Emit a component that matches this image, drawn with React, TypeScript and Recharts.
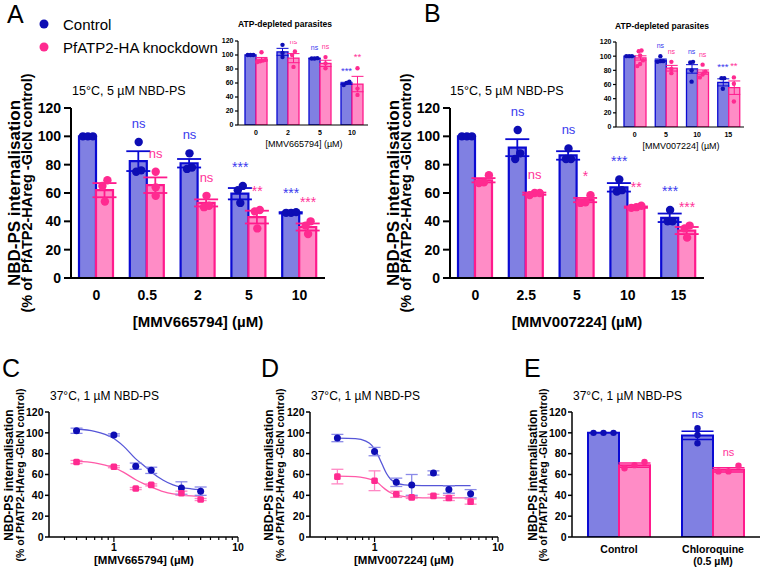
import React from "react";
import { ComposedChart, Bar, Line, Scatter, XAxis, YAxis, ErrorBar } from "recharts";

const FONT = "'Liberation Sans', Arial, Helvetica, sans-serif";

const BLUE_FILL = "#8080e2";
const BLUE_EDGE = "#0a0ad2";
const BLUE_DOT = "#0d0db4";
const BLUE_SIG = "#3a3aee";
const BLUE_LINE = "#5656d8";
const BLUE_ERR = "#8a8ae8";
const PINK_FILL = "#ff8cc6";
const PINK_EDGE = "#ff1a8c";
const PINK_DOT = "#ff2a90";
const PINK_SIG = "#ff3399";
const PINK_LINE = "#ff5aa8";
const PINK_ERR = "#ff88c4";

// ---- A: 15°C, MMV665794
const catsA = ["0", "0.5", "2", "5", "10"];
const ctrlA = [100, 82.5, 81, 59.5, 46];
const ctrlSemA = [0, 7, 3, 4, 0.5];
const ctrlRepsA = [[100, 100, 100], [75, 96, 76], [77, 88, 78], [65, 53, 62], [46, 46, 46.5]];
const kdA = [62, 65.5, 53, 43, 36];
const kdSemA = [5, 5.5, 2.5, 4.5, 2.5];
const kdRepsA = [[69, 54, 65], [64, 75, 58], [50, 58, 51], [48, 35, 47], [40, 31, 37]];
const sigCtrlA = ["", "ns", "ns", "***", "***"];
const sigKdA = ["", "ns", "ns", "**", "***"];

// ---- A inset: ATP-depleted
const catsAI = ["0", "2", "5", "10"];
const ctrlAI = [100, 104.5, 95, 59.5];
const ctrlSemAI = [0, 5, 0.5, 1.5];
const ctrlRepsAI = [[100, 100, 100], [103, 114.5, 97], [95, 95, 95.5], [62, 57, 60]];
const kdAI = [94, 95.5, 88, 58.5];
const kdSemAI = [2.5, 6.5, 4.5, 11];
const kdRepsAI = [[104, 92, 91, 93, 90], [100, 105, 83], [97, 81, 88], [81, 52, 43]];
const sigCtrlAI = ["", "ns", "ns", "***"];
const sigKdAI = ["", "ns", "ns", "**"];

// ---- B: 15°C, MMV007224
const catsB = ["0", "2.5", "5", "10", "15"];
const ctrlB = [100, 92, 86.5, 64, 42.5];
const ctrlSemB = [0, 6, 3, 3, 3];
const ctrlRepsB = [[100, 100, 100], [88, 104.5, 84], [84, 91.5, 84], [61, 69.5, 62], [40, 48, 40]];
const kdB = [69, 59.5, 55, 50, 33.5];
const kdSemB = [1.5, 0.8, 1.5, 0.5, 2.5];
const kdRepsB = [[72.5, 67, 67.5], [60, 58.5, 60], [53, 58.5, 53.5], [49.5, 51, 50], [37, 28.5, 35]];
const sigCtrlB = ["", "ns", "ns", "***", "***"];
const sigKdB = ["", "ns", "*", "**", "***"];

// ---- B inset: ATP-depleted
const catsBI = ["0", "5", "10", "15"];
const ctrlBI = [100, 94.5, 82, 63];
const ctrlSemBI = [0, 1.5, 6, 5];
const ctrlRepsBI = [[100, 100, 100], [93, 100, 92, 93], [91, 64, 92, 80], [69, 54, 69]];
const kdBI = [97.5, 83, 77.5, 55.5];
const kdSemBI = [3, 4, 3, 9.5];
const kdRepsBI = [[89, 107, 101, 86, 108, 94], [92, 76, 82], [88, 74, 78, 70], [70, 36, 61]];
const sigCtrlBI = ["", "ns", "ns", "***"];
const sigKdBI = ["", "ns", "ns", "**"];

// ---- C: 37°C, MMV665794 dose response
const doseC = [0.5, 1, 1.5, 2, 3.5, 5];
const ctrlC = [102, 98, 68, 64, 47, 44];
const ctrlSemC = [2.5, 1, 3, 3, 6, 4];
const kdC = [72, 67.5, 46.5, 50, 42, 36];
const kdSemC = [1.5, 1, 1, 1, 2, 1];
const fitXC = [0.5, 0.7, 0.85, 1, 1.2, 1.5, 1.75, 2, 2.5, 3, 3.5, 4.2, 5];
const fitCtrlC = [103.7, 101.5, 98.5, 94.5, 87, 75, 68.5, 62.5, 54.5, 50, 47.7, 46.3, 45.5];
const fitKdC = [72.6, 71.2, 69, 66.5, 62, 55, 51, 48, 43.5, 41.3, 40.2, 39.5, 39.2];

// ---- D: 37°C, MMV007224 dose response
const doseD = [0.5, 1, 1.5, 2, 3, 4, 6];
const ctrlD = [95, 82, 52.5, 50, 61.5, 45.5, 41.5];
const ctrlSemD = [3.5, 4, 4, 10, 2, 3.5, 4];
const kdD = [58, 54, 41, 38, 39.5, 37.5, 34];
const kdSemD = [7, 9.5, 3, 1, 1.5, 2.5, 2.5];
const fitXD = [0.5, 0.7, 0.85, 0.95, 1.05, 1.15, 1.25, 1.35, 1.5, 1.75, 2, 3, 6];
const fitCtrlD = [95, 94.5, 92, 88, 80, 70, 61, 55.5, 52, 50, 49.5, 49.3, 49.3];
const fitKdD = [58.5, 58, 56.5, 55, 52.5, 48.5, 45, 42.5, 40.5, 38.7, 38, 37.5, 37.5];

// ---- E: chloroquine
const catsE = ["Control", "Chloroquine (0.5 µM)"];
const ctrlE = [100, 97.5];
const ctrlSemE = [0, 4];
const ctrlRepsE = [[100, 100, 100], [90, 104.5, 98]];
const kdE = [69, 64.5];
const kdSemE = [2, 2];
const kdRepsE = [[72, 66, 69], [68.5, 63, 63]];
const sigCtrlE = ["", "ns"];
const sigKdE = ["", "ns"];

const Y_TICKS = [0, 20, 40, 60, 80, 100, 120];
const LOG_TICKS = [0.4, 0.5, 0.6, 0.7, 0.8, 0.9, 1, 2, 3, 4, 5, 6, 7, 8, 9, 10];

type Style = {
  barSize: number; r: number; step: number; cap: number; errW: number; edgeW: number;
  axisW: number; tickFs: number; yTickLen: number; yTickGap: number; xTickGap: number;
  ns: number; star: number; sigOff: number; xH: number; mT: number;
};

const MAIN: Style = { barSize: 17, r: 4.2, step: 5, cap: 12, errW: 1.8, edgeW: 2.2, axisW: 2, tickFs: 14, yTickLen: 7, yTickGap: 3, xTickGap: 12, ns: 13, star: 14, sigOff: 14, xH: 30, mT: 10 };
const INSET: Style = { barSize: 11, r: 2.2, step: 2.8, cap: 6, errW: 1, edgeW: 1.3, axisW: 1.2, tickFs: 7, yTickLen: 3, yTickGap: 1.5, xTickGap: 5, ns: 7, star: 9.5, sigOff: 8, xH: 16, mT: 18 };
const SMALL: Style = { barSize: 31, r: 3.2, step: 10, cap: 16, errW: 1.5, edgeW: 2, axisW: 1.5, tickFs: 10.5, yTickLen: 4, yTickGap: 1.5, xTickGap: 8, ns: 11, star: 12, sigOff: 10, xH: 36, mT: 10 };

// spread replicate dots sideways when they would overlap (like GraphPad)
function spread(vals: number[], ppu: number, r: number, step: number) {
  const order = vals.map((_, i) => i).sort((a, b) => vals[a] - vals[b]);
  const offs = vals.map(() => 0);
  let group: number[] = [];
  const flush = () => {
    group.forEach((idx, k) => { offs[idx] = (k - (group.length - 1) / 2) * step; });
    group = [];
  };
  order.forEach((idx, k) => {
    if (k > 0 && (vals[idx] - vals[order[k - 1]]) * ppu >= r * 1.8) flush();
    group.push(idx);
  });
  flush();
  return offs;
}

function CatTick({ x, y, payload, fs }: any) {
  const lines = String(payload.value).split(/ (?=\()/);
  return (
    <text x={x} y={y} textAnchor="middle" fill="#000" fontSize={fs} fontWeight={700} fontFamily={FONT}>
      {lines.map((ln, i) => (
        <tspan key={i} x={x} dy={i === 0 ? "0.72em" : "1.2em"}>{ln}</tspan>
      ))}
    </text>
  );
}

function LogTick({ x, y, payload }: any) {
  const v = payload.value;
  const major = v === 1 || v === 10;
  return (
    <g>
      <line x1={x} x2={x} y1={y} y2={y + (major ? 5 : 3)} stroke="#000" strokeWidth={1.2} />
      {major && (
        <text x={x} y={y + 6} dy="0.72em" textAnchor="middle" fill="#000" fontSize={10.5} fontWeight={700} fontFamily={FONT}>
          {v}
        </text>
      )}
    </g>
  );
}

function BarPanel(props: any) {
  const { x, y, w, h, yW, padL, cats, ctrl, ctrlSem, ctrlReps, kd, kdSem, kdReps, sigCtrl, sigKd, st } = props;
  const s: Style = st;
  const ppu = h / 120;
  const rows = cats.map((cat: string, i: number) => {
    const row: any = {
      cat, c: ctrl[i], ce: ctrlSem[i], k: kd[i], ke: kdSem[i],
      cReps: ctrlReps[i], kReps: kdReps[i],
      cTop: Math.max(ctrl[i] + ctrlSem[i], ...ctrlReps[i]),
      kTop: Math.max(kd[i] + kdSem[i], ...kdReps[i]),
      cSig: sigCtrl[i], kSig: sigKd[i],
    };
    ctrlReps[i].forEach((v: number, j: number) => { row["c" + j] = v; });
    kdReps[i].forEach((v: number, j: number) => { row["k" + j] = v; });
    return row;
  });
  const nC = Math.max(...ctrlReps.map((r: number[]) => r.length));
  const nK = Math.max(...kdReps.map((r: number[]) => r.length));
  const mT = s.mT;
  const mR = 4;

  const repDot = (key: string, j: number) => (p: any) => {
    const reps: number[] = p.payload?.[key + "Reps"];
    const k = `${key}${j}-${p.index}`;
    if (p.cy == null || !reps || reps[j] == null) return <g key={k} />;
    const offs = spread(reps, ppu, s.r, s.step);
    const shift = key === "c" ? -s.barSize / 2 : s.barSize / 2;
    return <circle key={k} cx={p.cx + shift + offs[j]} cy={p.cy} r={s.r} fill={key === "c" ? BLUE_DOT : PINK_DOT} />;
  };

  const sigDot = (field: string, dx: number, color: string) => (p: any) => {
    const label = p.payload?.[field];
    const k = `${field}-${p.index}`;
    if (!label || p.cy == null) return <g key={k} />;
    return (
      <text key={k} x={p.cx + dx} y={p.cy - s.sigOff} textAnchor="middle" fill={color}
        fontSize={label === "ns" ? s.ns : s.star} fontFamily={FONT}>
        {label}
      </text>
    );
  };

  return (
    <div style={{ position: "absolute", left: x - yW, top: y - mT }}>
      <ComposedChart width={yW + w + mR} height={mT + h + s.xH} data={rows}
        margin={{ top: mT, right: mR, bottom: 0, left: 0 }} barGap={0}>
        <XAxis dataKey="cat" type="category" interval={0} height={s.xH} tickLine={false} tickSize={0}
          tickMargin={s.xTickGap} padding={{ left: padL, right: 0 }}
          axisLine={{ stroke: "#000", strokeWidth: s.axisW }}
          tick={(p: any) => <CatTick {...p} fs={s.tickFs} />} />
        <YAxis type="number" domain={[0, 120]} ticks={Y_TICKS} allowDataOverflow width={yW}
          tickSize={s.yTickLen} tickMargin={s.yTickGap}
          axisLine={{ stroke: "#000", strokeWidth: s.axisW }}
          tickLine={{ stroke: "#000", strokeWidth: s.axisW }}
          tick={{ fill: "#000", fontSize: s.tickFs, fontWeight: 700, fontFamily: FONT }} />
        <Bar dataKey="c" barSize={s.barSize} fill={BLUE_FILL} stroke={BLUE_EDGE} strokeWidth={s.edgeW} isAnimationActive={false}>
          <ErrorBar dataKey="ce" direction="y" width={s.cap} stroke={BLUE_EDGE} strokeWidth={s.errW} />
        </Bar>
        <Bar dataKey="k" barSize={s.barSize} fill={PINK_FILL} stroke={PINK_EDGE} strokeWidth={s.edgeW} isAnimationActive={false}>
          <ErrorBar dataKey="ke" direction="y" width={s.cap} stroke={PINK_EDGE} strokeWidth={s.errW} />
        </Bar>
        {Array.from({ length: nC }, (_, j) => (
          <Line key={"lc" + j} dataKey={"c" + j} stroke="none" activeDot={false} isAnimationActive={false} dot={repDot("c", j)} />
        ))}
        {Array.from({ length: nK }, (_, j) => (
          <Line key={"lk" + j} dataKey={"k" + j} stroke="none" activeDot={false} isAnimationActive={false} dot={repDot("k", j)} />
        ))}
        <Line dataKey="cTop" stroke="none" activeDot={false} isAnimationActive={false} dot={sigDot("cSig", -s.barSize / 2, BLUE_SIG)} />
        <Line dataKey="kTop" stroke="none" activeDot={false} isAnimationActive={false} dot={sigDot("kSig", s.barSize / 2, PINK_SIG)} />
      </ComposedChart>
    </div>
  );
}

function LogPanel(props: any) {
  const { x, y, w, h, dose, ctrl, ctrlSem, kd, kdSem, fitX, fitCtrl, fitKd } = props;
  const yW = 38;
  const mT = 8;
  const mR = 6;
  const ctrlPts = dose.map((d: number, i: number) => ({ x: d, y: ctrl[i], e: ctrlSem[i] }));
  const kdPts = dose.map((d: number, i: number) => ({ x: d, y: kd[i], e: kdSem[i] }));
  const fitC = fitX.map((d: number, i: number) => ({ x: d, y: fitCtrl[i] }));
  const fitK = fitX.map((d: number, i: number) => ({ x: d, y: fitKd[i] }));
  return (
    <div style={{ position: "absolute", left: x - yW, top: y - mT }}>
      <ComposedChart width={yW + w + mR} height={mT + h + 22} margin={{ top: mT, right: mR, bottom: 0, left: 0 }}>
        <XAxis dataKey="x" type="number" scale="log" domain={[0.3, 10]} allowDataOverflow ticks={LOG_TICKS}
          interval={0} tickLine={false} tickSize={0} tickMargin={0} height={22}
          axisLine={{ stroke: "#000", strokeWidth: 1.5 }} tick={(p: any) => <LogTick {...p} />} />
        <YAxis type="number" domain={[0, 120]} ticks={Y_TICKS} allowDataOverflow width={yW}
          tickSize={4} tickMargin={1.5}
          axisLine={{ stroke: "#000", strokeWidth: 1.5 }} tickLine={{ stroke: "#000", strokeWidth: 1.5 }}
          tick={{ fill: "#000", fontSize: 10.5, fontWeight: 700, fontFamily: FONT }} />
        <Line data={fitC} dataKey="y" type="monotone" stroke={BLUE_LINE} strokeWidth={1.3} dot={false} activeDot={false} isAnimationActive={false} />
        <Line data={fitK} dataKey="y" type="monotone" stroke={PINK_LINE} strokeWidth={1.3} dot={false} activeDot={false} isAnimationActive={false} />
        <Scatter data={ctrlPts} dataKey="y" isAnimationActive={false}
          shape={(p: any) => <circle cx={p.cx} cy={p.cy} r={3.5} fill={BLUE_DOT} />}>
          <ErrorBar dataKey="e" direction="y" width={6} stroke={BLUE_ERR} strokeWidth={1.3} />
        </Scatter>
        <Scatter data={kdPts} dataKey="y" isAnimationActive={false}
          shape={(p: any) => <rect x={p.cx - 3.3} y={p.cy - 3.3} width={6.6} height={6.6} rx={1.5} fill={PINK_DOT} />}>
          <ErrorBar dataKey="e" direction="y" width={6} stroke={PINK_ERR} strokeWidth={1.3} />
        </Scatter>
      </ComposedChart>
    </div>
  );
}

function T({ x, y, s, fs, bold, anchor, fill, children }: any) {
  return (
    <text x={x} y={y} fontSize={fs} fontWeight={bold ? 700 : 400} textAnchor={anchor || "start"}
      fill={fill || "#000"} fontFamily={FONT}>
      {children ?? s}
    </text>
  );
}

function VT({ x, y, fs, children }: any) {
  return (
    <text transform={`translate(${x},${y}) rotate(-90)`} textAnchor="middle" fontSize={fs} fontWeight={700}
      fill="#000" fontFamily={FONT}>
      {children}
    </text>
  );
}

export default function App() {
  return (
    <div style={{ position: "absolute", left: 0, top: 0, width: 763, height: 572, background: "#fff", overflow: "hidden" }}>
      <BarPanel x={71} y={108} w={254} h={170} yW={44} padL={0} st={MAIN}
        cats={catsA} ctrl={ctrlA} ctrlSem={ctrlSemA} ctrlReps={ctrlRepsA}
        kd={kdA} kdSem={kdSemA} kdReps={kdRepsA} sigCtrl={sigCtrlA} sigKd={sigKdA} />
      <BarPanel x={450} y={108} w={254} h={170} yW={44} padL={0} st={MAIN}
        cats={catsB} ctrl={ctrlB} ctrlSem={ctrlSemB} ctrlReps={ctrlRepsB}
        kd={kdB} kdSem={kdSemB} kdReps={kdRepsB} sigCtrl={sigCtrlB} sigKd={sigKdB} />
      <BarPanel x={238} y={41} w={130} h={84} yW={22} padL={2} st={INSET}
        cats={catsAI} ctrl={ctrlAI} ctrlSem={ctrlSemAI} ctrlReps={ctrlRepsAI}
        kd={kdAI} kdSem={kdSemAI} kdReps={kdRepsAI} sigCtrl={sigCtrlAI} sigKd={sigKdAI} />
      <BarPanel x={616} y={41.5} w={128} h={85} yW={22} padL={3} st={INSET}
        cats={catsBI} ctrl={ctrlBI} ctrlSem={ctrlSemBI} ctrlReps={ctrlRepsBI}
        kd={kdBI} kdSem={kdSemBI} kdReps={kdRepsBI} sigCtrl={sigCtrlBI} sigKd={sigKdBI} />
      <LogPanel x={49} y={412} w={189} h={125} dose={doseC} ctrl={ctrlC} ctrlSem={ctrlSemC}
        kd={kdC} kdSem={kdSemC} fitX={fitXC} fitCtrl={fitCtrlC} fitKd={fitKdC} />
      <LogPanel x={310} y={412} w={188} h={125} dose={doseD} ctrl={ctrlD} ctrlSem={ctrlSemD}
        kd={kdD} kdSem={kdSemD} fitX={fitXD} fitCtrl={fitCtrlD} fitKd={fitKdD} />
      <BarPanel x={572} y={412} w={188} h={125} yW={34} padL={0} st={SMALL}
        cats={catsE} ctrl={ctrlE} ctrlSem={ctrlSemE} ctrlReps={ctrlRepsE}
        kd={kdE} kdSem={kdSemE} kdReps={kdRepsE} sigCtrl={sigCtrlE} sigKd={sigKdE} />

      <svg width={763} height={572} style={{ position: "absolute", left: 0, top: 0, pointerEvents: "none" }}>
        {/* panel letters */}
        <T x={7} y={23} fs={25} s="A" />
        <T x={424} y={22} fs={25} s="B" />
        <T x={2} y={377} fs={25} s="C" />
        <T x={261} y={377} fs={25} s="D" />
        <T x={524} y={377} fs={25} s="E" />

        {/* legend */}
        <circle cx={44} cy={24} r={4.5} fill={BLUE_DOT} />
        <T x={63} y={29.5} fs={15} s="Control" />
        <circle cx={44} cy={47} r={4.5} fill={PINK_DOT} />
        <T x={63} y={52.5} fs={15} s="PfATP2-HA knockdown" />

        {/* titles */}
        <T x={72} y={95} fs={12.5} s="15°C, 5 µM NBD-PS" />
        <T x={450} y={95} fs={12.5} s="15°C, 5 µM NBD-PS" />
        <T x={285} y={27} fs={8.5} bold anchor="middle" s="ATP-depleted parasites" />
        <T x={662} y={29} fs={8.5} bold anchor="middle" s="ATP-depleted parasites" />
        <T x={50} y={400} fs={12} s="37°C, 1 µM NBD-PS" />
        <T x={311} y={400} fs={12} s="37°C, 1 µM NBD-PS" />
        <T x={573} y={400} fs={12} s="37°C, 1 µM NBD-PS" />

        {/* axis titles */}
        <T x={198} y={327} fs={15} bold anchor="middle" s="[MMV665794] (µM)" />
        <T x={577} y={327} fs={15} bold anchor="middle" s="[MMV007224] (µM)" />
        <T x={304} y={147} fs={9} anchor="middle" s="[MMV665794] (µM)" />
        <T x={681} y={149} fs={9} anchor="middle" s="[MMV007224] (µM)" />
        <T x={144} y={564} fs={11.5} bold anchor="middle" s="[MMV665794] (µM)" />
        <T x={404} y={564} fs={11.5} bold anchor="middle" s="[MMV007224] (µM)" />

        <VT x={20} y={193} fs={17}>NBD-PS internalisation</VT>
        <VT x={32} y={193} fs={14.5}>(% of PfATP2-HAreg -GlcN control)</VT>
        <VT x={398.5} y={193} fs={17}>NBD-PS internalisation</VT>
        <VT x={411} y={193} fs={14.5}>(% of PfATP2-HAreg -GlcN control)</VT>

        <VT x={13} y={475} fs={12}>NBD-PS internalisation</VT>
        <VT x={23.5} y={475} fs={10.5}>(% of PfATP2-HAreg -GlcN control)</VT>
        <VT x={273} y={475} fs={12}>NBD-PS internalisation</VT>
        <VT x={284} y={475} fs={10.5}>(% of PfATP2-HAreg -GlcN control)</VT>
        <VT x={536.5} y={475} fs={12}>NBD-PS internalisation</VT>
        <VT x={547} y={475} fs={10.5}>(% of PfATP2-HAreg -GlcN control)</VT>
      </svg>
    </div>
  );
}
